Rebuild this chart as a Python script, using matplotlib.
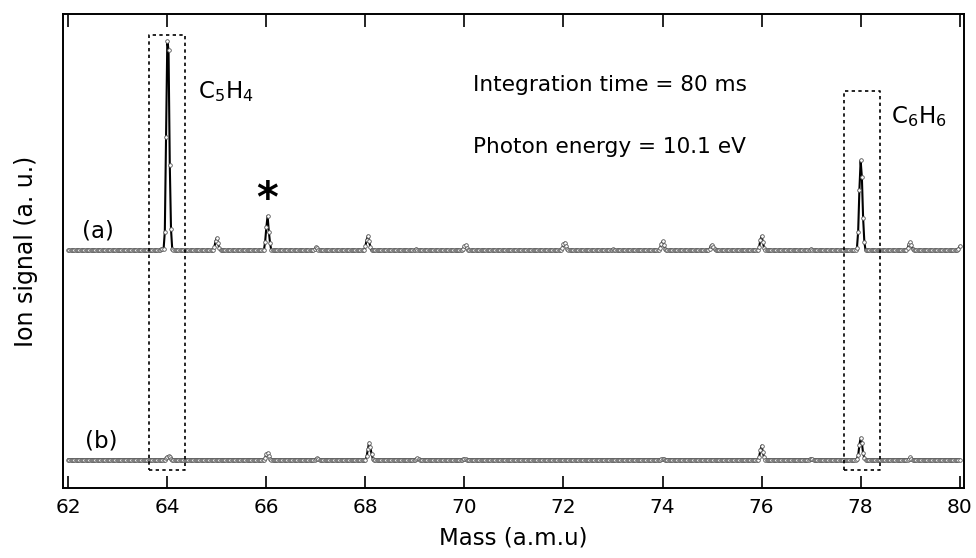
import matplotlib
matplotlib.use("Agg")
import matplotlib.pyplot as plt
import numpy as np

plt.rcParams['font.family'] = ['DejaVu Sans']
plt.rcParams['mathtext.default'] = 'regular'

# mass grid of the recorded spectrum (a.m.u)
mass_start = 62.0
mass_end = 80.0
mass_step = 0.025

# trace (a): peak start mass and sampled signal values (normalised to C5H4)
peaks_a_start = [63.85, 63.925, 64.95, 65.975, 66.975, 68.0, 69.0, 69.975,
                 71.975, 72.975, 73.95, 74.95, 75.95, 76.975, 77.925, 78.95, 79.975]
peaks_a_values = [
    [0.004, 0.006, 0.005],
    [0.006, 0.09, 0.54, 1.0, 0.96, 0.41, 0.10, 0.005],
    [0.015, 0.045, 0.06, 0.035, 0.01],
    [0.04, 0.11, 0.165, 0.09, 0.035],
    [0.005, 0.016, 0.012, 0.004],
    [0.02, 0.05, 0.07, 0.045, 0.015],
    [0.004, 0.008, 0.004],
    [0.008, 0.02, 0.024, 0.012, 0.004],
    [0.01, 0.03, 0.037, 0.02, 0.006],
    [0.004, 0.006, 0.003],
    [0.01, 0.03, 0.043, 0.025, 0.008],
    [0.008, 0.02, 0.027, 0.015, 0.005],
    [0.015, 0.05, 0.069, 0.04, 0.012],
    [0.004, 0.008, 0.004],
    [0.01, 0.09, 0.29, 0.43, 0.35, 0.155, 0.04],
    [0.01, 0.03, 0.04, 0.025, 0.008],
    [0.008, 0.02],
]

# trace (b)
peaks_b_start = [63.975, 65.975, 67.0, 68.025, 69.025, 69.975, 73.975,
                 75.95, 76.975, 77.925, 78.975]
peaks_b_values = [
    [0.006, 0.014, 0.017, 0.01, 0.003],
    [0.008, 0.025, 0.032, 0.018, 0.005],
    [0.003, 0.006, 0.003],
    [0.015, 0.05, 0.081, 0.06, 0.025, 0.005],
    [0.003, 0.007, 0.003],
    [0.002, 0.004, 0.002],
    [0.002, 0.004, 0.002],
    [0.012, 0.045, 0.067, 0.035, 0.01],
    [0.002, 0.004, 0.002],
    [0.005, 0.02, 0.07, 0.104, 0.08, 0.03, 0.008],
    [0.004, 0.01, 0.004],
]

offset_a = 1.0
offset_b = 0.0

mass_ticks = [62, 64, 66, 68, 70, 72, 74, 76, 78, 80]

# highlighted mass windows
box_c5h4 = (63.63, 64.36, -0.05, 2.03)
box_c6h6 = (77.67, 78.39, -0.05, 1.76)

n = int(round((mass_end - mass_start) / mass_step)) + 1
mass = mass_start + mass_step * np.arange(n)


def build(starts, values):
    sig = np.zeros(n)
    for s, vals in zip(starts, values):
        i0 = int(round((s - mass_start) / mass_step))
        sig[i0:i0 + len(vals)] = vals
    return sig


sig_a = build(peaks_a_start, peaks_a_values) + offset_a
sig_b = build(peaks_b_start, peaks_b_values) + offset_b

fig = plt.figure(figsize=(9.76, 5.58), dpi=100)
ax = fig.add_axes([0.0645, 0.1254, 0.9232, 0.8495])

for sig in (sig_a, sig_b):
    ax.plot(mass, sig, color='black', lw=1.5, marker='o', ms=2.6,
            mfc='white', mec='#555555', mew=0.6)

for x0, x1, y0, y1 in (box_c5h4, box_c6h6):
    ax.plot([x0, x1, x1, x0, x0], [y0, y0, y1, y1, y0], color='black',
            lw=1.2, linestyle=(0, (2, 2)))

ax.text(62.28, 1.06, '(a)', fontsize=16.5, va='baseline')
ax.text(62.34, 0.06, '(b)', fontsize=16.5, va='baseline')
ax.text(64.63, 1.728, r'C$_5$H$_4$', fontsize=16.5, va='baseline')
ax.text(78.62, 1.61, r'C$_6$H$_6$', fontsize=16.5, va='baseline')
ax.text(70.17, 1.76, 'Integration time = 80 ms', fontsize=15.6, va='baseline')
ax.text(70.17, 1.466, 'Photon energy = 10.1 eV', fontsize=15.6, va='baseline')
ax.text(66.02, 1.184, '*', fontsize=30, fontweight='bold', ha='center', va='baseline')

ax.set_xlim(61.893, 80.087)
ax.set_ylim(-0.136, 2.13)
ax.set_xticks(mass_ticks)
ax.set_yticks([])
ax.tick_params(axis='x', direction='in', top=True, length=9, width=1.2,
               labelsize=14.5, pad=7)
for sp in ax.spines.values():
    sp.set_linewidth(1.4)

ax.set_xlabel('Mass (a.m.u)', fontsize=16.5, labelpad=7)
ax.set_ylabel('Ion signal (a. u.)', fontsize=17, labelpad=18)

fig.savefig('out.png', dpi=100)
